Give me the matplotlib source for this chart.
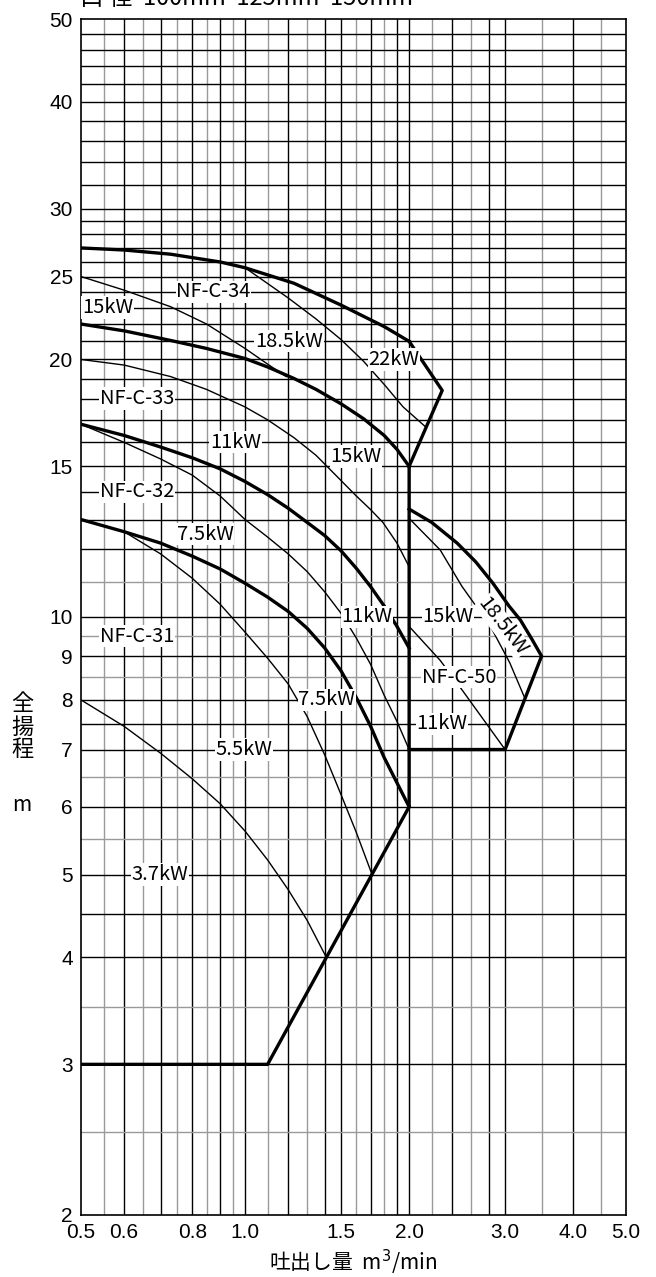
import matplotlib
matplotlib.use("Agg")
import matplotlib.pyplot as plt

# ---- data (flow m3/min, head m) ----
c34_q = [0.5, 0.6, 0.73, 0.9, 1.0, 1.23, 1.5, 1.8, 2.0]
c34_h = [27.0, 26.85, 26.55, 26.0, 25.6, 24.55, 23.15, 21.85, 21.0]
edge34_q = [2.0, 2.3, 2.0]
edge34_h = [21.0, 18.4, 15.0]

c33_q = [0.5, 0.6, 0.73, 0.85, 1.0, 1.1, 1.23, 1.35, 1.5, 1.65, 1.8, 1.9, 2.0]
c33_h = [22.0, 21.6, 21.05, 20.6, 20.05, 19.6, 19.0, 18.45, 17.75, 17.05, 16.3, 15.7, 15.0]

c32_q = [0.5, 0.6, 0.7, 0.8, 0.9, 1.0, 1.1, 1.2, 1.3, 1.4, 1.5, 1.6, 1.7, 1.8, 1.9, 2.0]
c32_h = [16.8, 16.3, 15.8, 15.35, 14.9, 14.4, 13.9, 13.4, 12.9, 12.45, 11.95, 11.4,
         10.85, 10.3, 9.75, 9.2]

c31_q = [0.5, 0.6, 0.7, 0.8, 0.9, 1.0, 1.1, 1.2, 1.3, 1.4, 1.5, 1.6, 1.7, 1.8, 1.9, 2.0]
c31_h = [13.0, 12.58, 12.2, 11.78, 11.38, 10.95, 10.55, 10.15, 9.7, 9.2, 8.65, 8.05,
         7.45, 6.85, 6.4, 6.0]

low_q = [0.5, 1.1, 2.0, 2.0]
low_h = [3.0, 3.0, 6.0, 15.0]

c50_q = [2.0, 2.2, 2.45, 2.65, 2.85, 3.05, 3.2, 3.35, 3.5, 3.0, 2.0]
c50_h = [13.37, 12.9, 12.2, 11.6, 10.95, 10.3, 9.92, 9.45, 9.0, 7.0, 7.0]

# motor power limit lines (thin)
p34_15_q = [0.5, 0.6, 0.73, 0.85, 1.0, 1.1, 1.19]
p34_15_h = [25.0, 24.1, 23.05, 22.0, 20.6, 19.75, 19.1]
p34_185_q = [1.0, 1.2, 1.35, 1.5, 1.65, 1.8, 1.95, 2.14]
p34_185_h = [25.6, 23.6, 22.3, 21.1, 19.9, 18.7, 17.6, 16.7]
p33_q = [0.5, 0.6, 0.73, 0.85, 1.0, 1.1, 1.23, 1.35, 1.49, 1.6, 1.7, 1.79, 1.9, 2.0]
p33_h = [20.0, 19.7, 19.1, 18.45, 17.6, 17.0, 16.2, 15.45, 14.5, 13.85, 13.35, 12.9,
         12.2, 11.45]
p32_q = [0.5, 0.6, 0.7, 0.8, 0.9, 1.0, 1.1, 1.2, 1.3, 1.4, 1.5, 1.6, 1.7, 1.8, 1.9, 2.0]
p32_h = [16.8, 16.0, 15.3, 14.65, 13.85, 13.0, 12.4, 11.85, 11.3, 10.7, 10.1, 9.45,
         8.8, 8.1, 7.55, 7.0]
p31_q = [0.6, 0.7, 0.8, 0.9, 1.0, 1.1, 1.2, 1.3, 1.4, 1.5, 1.6, 1.71]
p31_h = [12.58, 11.85, 11.1, 10.35, 9.6, 8.95, 8.35, 7.65, 6.9, 6.2, 5.6, 5.0]
p37_q = [0.5, 0.6, 0.7, 0.8, 0.9, 1.0, 1.1, 1.2, 1.3, 1.41]
p37_h = [8.0, 7.45, 6.93, 6.47, 6.05, 5.62, 5.2, 4.8, 4.42, 4.0]
p50a_q = [2.0, 2.28, 2.5, 2.82, 3.06, 3.26]
p50a_h = [13.04, 11.98, 10.86, 9.75, 8.84, 8.04]
p50b_q = [2.0, 2.28, 2.48, 3.0]
p50b_h = [9.75, 8.9, 8.28, 7.0]

labels = ["NF-C-34", "15kW", "18.5kW", "22kW", "NF-C-33", "11kW", "15kW",
          "NF-C-32", "7.5kW", "11kW", "NF-C-31", "7.5kW", "5.5kW", "3.7kW",
          "15kW", "NF-C-50", "11kW"]
label_q = [0.875, 0.559, 1.204, 1.876, 0.634, 0.96, 1.598,
           0.634, 0.845, 1.672, 0.634, 1.412, 0.995, 0.699,
           2.36, 2.47, 2.295]
label_h = [24, 23, 21, 20, 18, 16, 15.4,
           14, 12.5, 10, 9.5, 8, 7, 5,
           10, 8.5, 7.5]

x_ticks = [0.5, 0.6, 0.8, 1.0, 1.5, 2.0, 3.0, 4.0, 5.0]
x_ticklabels = ["0.5", "0.6", "0.8", "1.0", "1.5", "2.0", "3.0", "4.0", "5.0"]
y_ticks = [2, 3, 4, 5, 6, 7, 8, 9, 10, 15, 20, 25, 30, 40, 50]

x_grid_dark = [0.6, 0.7, 0.8, 0.9, 1.0, 1.2, 1.4, 1.5, 1.7, 1.9, 2.0, 2.4, 2.8, 3.0, 4.0]
x_grid_light = [0.55, 0.65, 0.75, 0.85, 0.95, 1.1, 1.3, 1.6, 1.8, 2.2, 2.6, 3.5, 4.5]
y_grid_dark = [3, 4, 4.5, 5, 6, 7, 7.5, 8, 9, 10, 12, 13, 14, 15, 16, 17, 18, 19, 20,
               21, 22, 23, 24, 25, 26, 27, 28, 29, 30, 32, 34, 36, 38, 40, 42, 44, 46, 48]
y_grid_light = [2.5, 3.5, 5.5, 6.5, 8.5, 9.5, 11]

fig = plt.figure(figsize=(6.56, 12.77), dpi=100)
ax = fig.add_axes([81 / 656, 1 - 1215 / 1277, 545 / 656, 1196 / 1277])
ax.set_xscale("log")
ax.set_yscale("log")
ax.set_xlim(0.5, 5.0)
ax.set_ylim(2, 50)

for v in x_grid_light:
    ax.axvline(v, color="#9a9a9a", lw=1.0, zorder=1)
for v in x_grid_dark:
    ax.axvline(v, color="black", lw=1.0, zorder=1)
for v in y_grid_light:
    ax.axhline(v, color="#9a9a9a", lw=1.0, zorder=1)
for v in y_grid_dark:
    ax.axhline(v, color="black", lw=1.0, zorder=1)

thick = dict(color="black", lw=2.4, zorder=3, solid_joinstyle="round")
thin = dict(color="black", lw=1.0, zorder=2)
ax.plot(c34_q, c34_h, **thick)
ax.plot(edge34_q, edge34_h, **thick)
ax.plot(c33_q, c33_h, **thick)
ax.plot(c32_q, c32_h, **thick)
ax.plot(c31_q, c31_h, **thick)
ax.plot(low_q, low_h, **thick)
ax.plot(c50_q, c50_h, **thick)
for q, h in [(p34_15_q, p34_15_h), (p34_185_q, p34_185_h), (p33_q, p33_h),
             (p32_q, p32_h), (p31_q, p31_h), (p37_q, p37_h),
             (p50a_q, p50a_h), (p50b_q, p50b_h)]:
    ax.plot(q, h, **thin)

lab_font = ["Noto Sans CJK JP", "DejaVu Sans"]
for t, q, h in zip(labels, label_q, label_h):
    ax.text(q, h, t, ha="center", va="center", fontsize=14.5, family=lab_font,
            zorder=5, bbox=dict(facecolor="white", edgecolor="none", pad=0.5))
ax.text(2.97, 9.75, "18.5kW", ha="center", va="center", fontsize=14.5,
        family=lab_font, rotation=-52, zorder=5,
        bbox=dict(facecolor="white", edgecolor="none", pad=0.3))

num_font = ["Liberation Sans Narrow", "Liberation Sans"]
ax.set_xticks(x_ticks)
ax.set_xticklabels(x_ticklabels, family=num_font, fontsize=15)
ax.set_yticks(y_ticks)
ax.set_yticklabels([str(v) for v in y_ticks], family=num_font, fontsize=15)
ax.minorticks_off()
ax.tick_params(length=0, pad=6)
for s in ax.spines.values():
    s.set_linewidth(1.2)

fig.text(22 / 656, 1 - 727 / 1277, "全\n揚\n程", ha="center", va="center",
         fontsize=16, family=lab_font, linespacing=1.0)
fig.text(22 / 656, 1 - 805 / 1277, "m", ha="center", va="center",
         fontsize=15, family=lab_font)
fig.text(353 / 656, 1 - 1262 / 1277, "吐出し量  m$^3$/min", ha="center", va="center",
         fontsize=15, family=lab_font)
# title line, mostly above the top edge as in the source image
fig.text(80 / 656, 1 - 10 / 1277, "口 径  100mm  125mm  150mm", ha="left", va="bottom",
         fontsize=17, family=lab_font)

fig.savefig("out.png", dpi=100)
